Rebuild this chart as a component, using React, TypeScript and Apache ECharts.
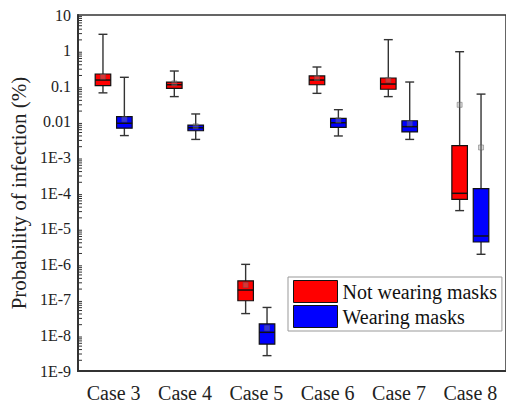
import React, { useEffect, useRef } from "react";
import * as echarts from "echarts";

const categories = ["Case 3", "Case 4", "Case 5", "Case 6", "Case 7", "Case 8"];
const seriesNames = ["Not wearing masks", "Wearing masks"];
// [min, q1, median, q3, max, mean]
const notWearing = [
  [0.065, 0.104, 0.149, 0.22, 2.87, 0.185],
  [0.051, 0.087, 0.11, 0.131, 0.267, 0.12],
  [4.1e-8, 9.4e-8, 1.88e-7, 3.4e-7, 9.9e-7, 2.6e-7],
  [0.063, 0.11, 0.149, 0.194, 0.346, 0.17],
  [0.051, 0.082, 0.115, 0.17, 2.03, 0.15],
  [3.2e-5, 6.65e-5, 9.8e-5, 0.00213, 0.93, 0.03],
];
const wearing = [
  [0.0041, 0.0066, 0.0091, 0.0139, 0.178, 0.0118],
  [0.0032, 0.0056, 0.0068, 0.0081, 0.0166, 0.0075],
  [2.7e-9, 5.7e-9, 1.22e-8, 2.1e-8, 6.1e-8, 1.6e-8],
  [0.004, 0.007, 0.0094, 0.0125, 0.0219, 0.011],
  [0.0032, 0.0052, 0.0073, 0.0107, 0.131, 0.009],
  [1.9e-6, 4.2e-6, 6.2e-6, 1.32e-4, 0.06, 0.0019],
];
const colors = ["#ff0000", "#0000ff"];
const yMin = 1e-9;
const yMax = 10;
const minorMultipliers = [2, 3, 4, 5, 6, 7, 8, 9];
const decades = [-9, -8, -7, -6, -5, -4, -3, -2, -1, 0];

const FONT = "Liberation Serif";

function makeRender(offsetFrac: number, color: string) {
  return (params: any, api: any) => {
    const cat = api.value(0);
    const mn = api.value(1);
    const q1 = api.value(2);
    const med = api.value(3);
    const q3 = api.value(4);
    const mx = api.value(5);
    const mean = api.value(6);
    const band = api.size([1, 0], [cat, 1])[0];
    const cx = api.coord([cat, med])[0] + offsetFrac * band;
    const y = (v: number) => api.coord([cat, v])[1];
    const bw = band * 0.218;
    const cw = band * 0.125;
    const lineStyle = { stroke: "#333", lineWidth: 1.4 };
    return {
      type: "group",
      children: [
        { type: "line", shape: { x1: cx, y1: y(q3), x2: cx, y2: y(mx) }, style: lineStyle },
        { type: "line", shape: { x1: cx, y1: y(mn), x2: cx, y2: y(q1) }, style: lineStyle },
        { type: "line", shape: { x1: cx - cw / 2, y1: y(mx), x2: cx + cw / 2, y2: y(mx) }, style: lineStyle },
        { type: "line", shape: { x1: cx - cw / 2, y1: y(mn), x2: cx + cw / 2, y2: y(mn) }, style: lineStyle },
        {
          type: "rect",
          shape: { x: cx - bw / 2, y: y(q3), width: bw, height: y(q1) - y(q3) },
          style: { fill: color, stroke: "#111", lineWidth: 1.2 },
        },
        {
          type: "line",
          shape: { x1: cx - bw / 2, y1: y(med), x2: cx + bw / 2, y2: y(med) },
          style: { stroke: "#111", lineWidth: 1.5 },
        },
        {
          type: "rect",
          shape: { x: cx - 2.5, y: y(mean) - 2.5, width: 5, height: 5 },
          style: { fill: "rgba(150,150,150,0.35)", stroke: "rgba(90,90,90,0.45)", lineWidth: 1 },
        },
      ],
    };
  };
}

export default function App() {
  const ref = useRef<HTMLDivElement>(null);
  useEffect(() => {
    if (!ref.current) return;
    const chart = echarts.init(ref.current, null, { renderer: "svg" });
    const toData = (arr: number[][]) => arr.map((r, i) => [i, ...r]);
    const minorData: number[][] = [];
    decades.forEach((d) => minorMultipliers.forEach((m) => minorData.push([0, m * Math.pow(10, d)])));
    chart.setOption({
      animation: false,
      textStyle: { fontFamily: FONT },
      grid: {
        left: 68,
        top: 15,
        bottom: 32,
        right: -3,
        show: true,
        borderColor: "#333",
        borderWidth: 1.5,
      },
      legend: {
        orient: "vertical",
        left: 288,
        top: 277,
        itemWidth: 44,
        itemHeight: 22,
        itemGap: 2,
        padding: [3, 5, 3, 5],
        borderColor: "#999",
        borderWidth: 1,
        backgroundColor: "#fff",
        textStyle: { fontFamily: FONT, fontSize: 20, color: "#111" },
        data: seriesNames.map((n, i) => ({
          name: n,
          icon: "rect",
          itemStyle: { color: colors[i], borderColor: "#111", borderWidth: 1 },
        })),
      },
      xAxis: {
        type: "category",
        data: categories,
        axisLine: { lineStyle: { color: "#333", width: 2 } },
        axisTick: { inside: true, length: 5, lineStyle: { color: "#333", width: 1.5 } },
        axisLabel: { fontFamily: FONT, fontSize: 20, color: "#222", margin: 12, interval: 0 },
        splitLine: { show: false },
      },
      yAxis: {
        type: "log",
        min: yMin,
        max: yMax,
        logBase: 10,
        interval: 1,
        name: "Probability of infection (%)",
        nameLocation: "middle",
        nameGap: 44,
        nameTextStyle: { fontFamily: FONT, fontSize: 21, color: "#222" },
        axisLine: { show: true, lineStyle: { color: "#333", width: 2 } },
        axisTick: { inside: true, length: 5, lineStyle: { color: "#333", width: 1.5 } },
        axisLabel: {
          fontFamily: FONT,
          fontSize: 16,
          color: "#222",
          margin: 7,
          formatter: (v: number) => {
            const e = Math.round(Math.log10(v));
            if (e >= 0) return String(Math.pow(10, e));
            if (e === -1) return "0.1";
            if (e === -2) return "0.01";
            return "1E" + e;
          },
        },
        splitLine: { show: false },
      },
      series: [
        {
          name: "minor",
          type: "custom",
          silent: true,
          z: 10,
          clip: false,
          data: minorData,
          encode: { x: 0, y: 1 },
          renderItem: (params: any, api: any) => {
            const band = api.size([1, 0], [0, 1])[0];
            const p = api.coord([0, api.value(1)]);
            const x0 = p[0] - band / 2;
            return {
              type: "line",
              shape: { x1: x0, y1: p[1], x2: x0 + 4, y2: p[1] },
              style: { stroke: "#333", lineWidth: 1 },
            };
          },
        },
        {
          name: seriesNames[0],
          type: "custom",
          data: toData(notWearing),
          encode: { x: 0, y: [1, 2, 3, 4, 5, 6] },
          itemStyle: { color: colors[0] },
          renderItem: makeRender(-0.15, colors[0]),
        },
        {
          name: seriesNames[1],
          type: "custom",
          data: toData(wearing),
          encode: { x: 0, y: [1, 2, 3, 4, 5, 6] },
          itemStyle: { color: colors[1] },
          renderItem: makeRender(0.15, colors[1]),
        },
      ],
    });
    return () => chart.dispose();
  }, []);
  return (
    <div
      ref={ref}
      style={{ position: "fixed", left: 0, top: 0, width: 506, height: 403, background: "#fff" }}
    />
  );
}
